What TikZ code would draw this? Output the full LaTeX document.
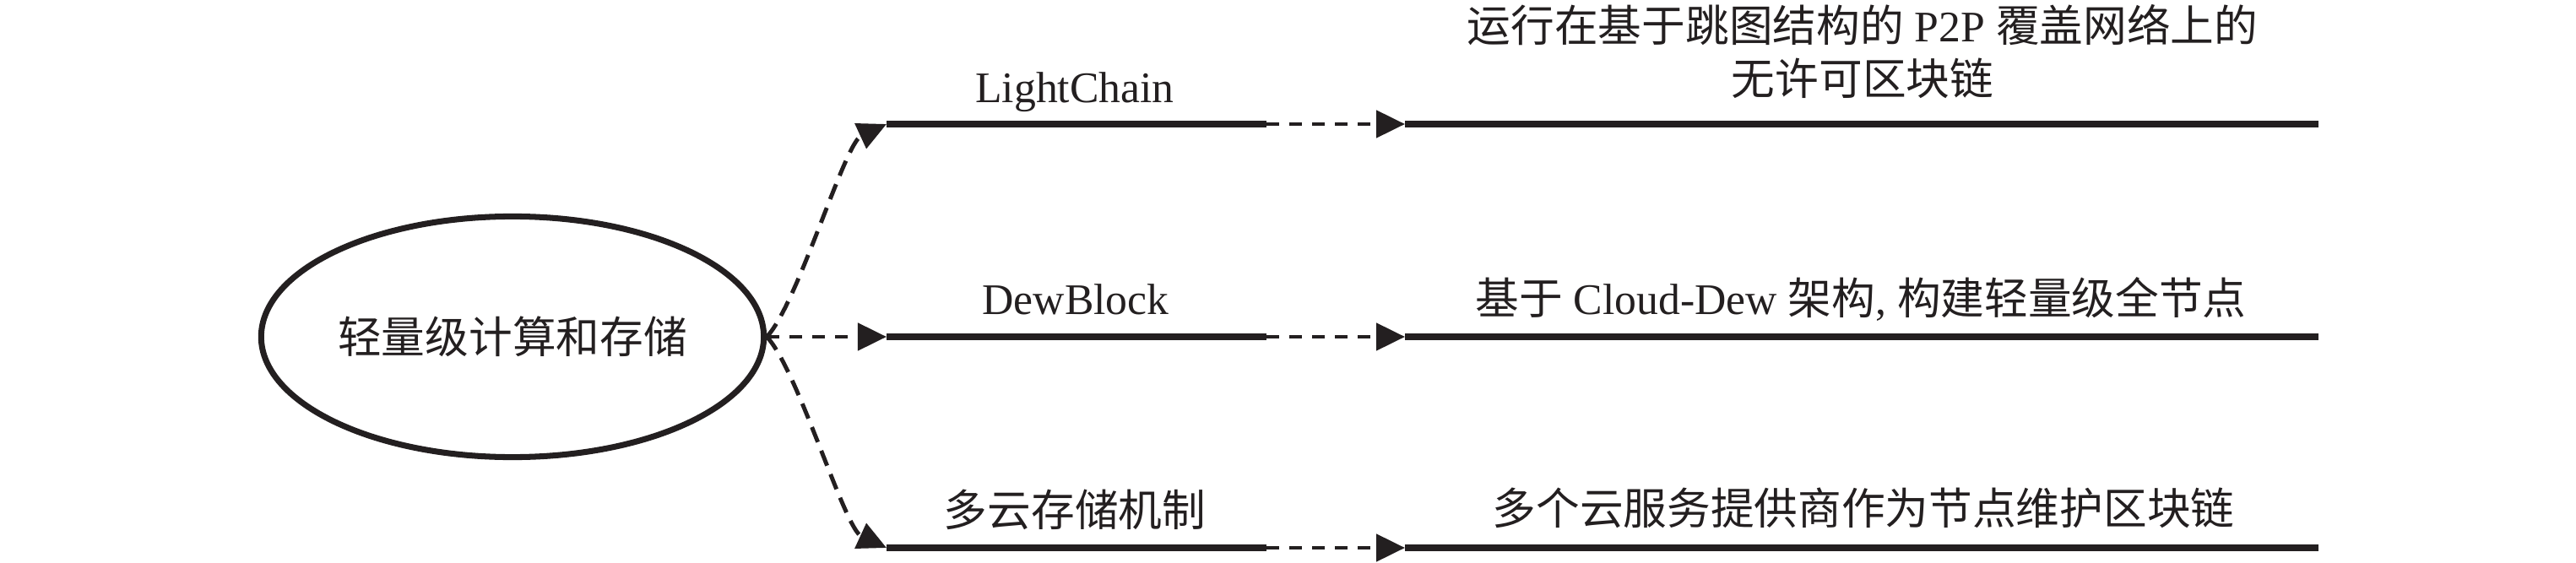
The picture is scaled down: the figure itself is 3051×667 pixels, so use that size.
\documentclass[tikz,border=0pt]{standalone}
\usepackage{fontspec}
\setmainfont{Liberation Serif}
\newfontfamily\cjk{Noto Sans CJK SC}
\usetikzlibrary{arrows.meta,shapes.geometric}
\definecolor{ink}{HTML}{231F20}
\begin{document}
\begin{tikzpicture}[x=0.01cm,y=-0.01cm,
  every node/.style={font=\fontsize{14.7}{17.9}\selectfont, inner sep=0pt, text=ink},
  thickline/.style={draw=ink, line width=2pt},
  conn/.style={draw=ink, line width=1.4pt, dash pattern=on 0.15cm off 0.12cm,
    -{Triangle[length=0.34cm,width=0.32cm]}, fill=none},
  curveconn/.style={conn, dash pattern=on 0.19cm off 0.11cm},
  lbl/.style={anchor=base}]
\useasboundingbox (0,0) rectangle (3051,667);

\node[draw=ink, ellipse, line width=2pt, minimum width=5.95cm, minimum height=2.85cm] (root) at (607,399) {\cjk 轻量级计算和存储};

% row coordinates
\coordinate (a1) at (1050,147); \coordinate (a2) at (1500,147);
\coordinate (b1) at (1664,147); \coordinate (b2) at (2746,147);
\coordinate (c1) at (1050,399); \coordinate (c2) at (1500,399);
\coordinate (d1) at (1664,399); \coordinate (d2) at (2746,399);
\coordinate (e1) at (1050,649); \coordinate (e2) at (1500,649);
\coordinate (f1) at (1664,649); \coordinate (f2) at (2746,649);

% solid lines
\draw[thickline] (a1) -- (a2);
\draw[thickline] (b1) -- (b2);
\draw[thickline] (c1) -- (c2);
\draw[thickline] (d1) -- (d2);
\draw[thickline] (e1) -- (e2);
\draw[thickline] (f1) -- (f2);

% dashed connectors between lines
\draw[conn] (a2) -- (b1);
\draw[conn] (c2) -- (d1);
\draw[conn] (e2) -- (f1);

% connectors from root
\draw[curveconn] (root.east) .. controls (945,360) and (1000,170) .. (a1);
\draw[conn] (root.east) -- (c1);
\draw[curveconn] (root.east) .. controls (945,438) and (1000,626) .. (e1);

% labels
\node[lbl] (t1) at (1273,122) {LightChain};
\node[lbl] (t2) at (1274,372) {DewBlock};
\node[lbl] (t3) at (1273,623) {\cjk 多云存储机制};
\node[align=center] (r1) at (2206,61) {{\cjk 运行在基于跳图结构的} P2P {\cjk 覆盖网络上的}\\{\cjk 无许可区块链}};
\node[lbl] (r2) at (2204,372) {{\cjk 基于} Cloud-Dew {\cjk 架构}, {\cjk 构建轻量级全节点}};
\node[lbl] (r3) at (2207,621) {\cjk 多个云服务提供商作为节点维护区块链};
\end{tikzpicture}
\end{document}
